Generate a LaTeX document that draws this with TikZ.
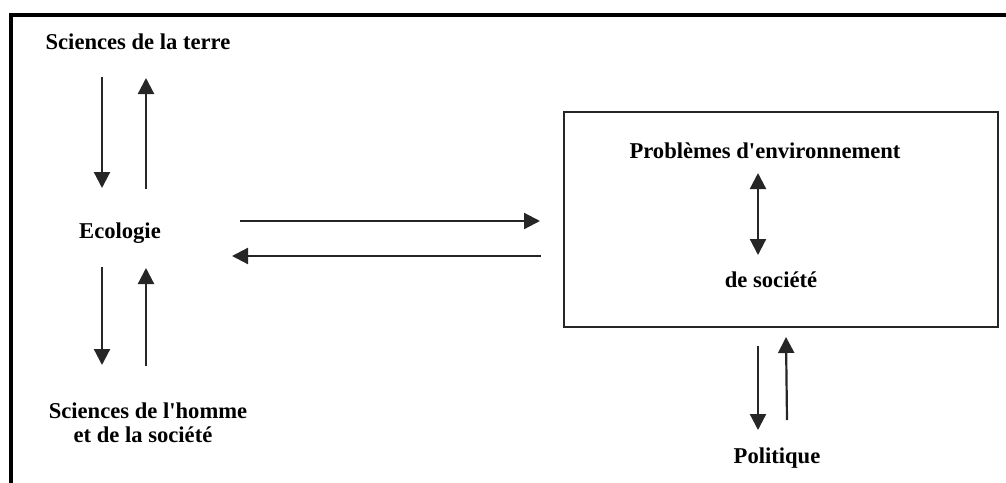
\documentclass[tikz,border=0pt]{standalone}
\usepackage{fontspec}
\setmainfont{Liberation Serif}
\usetikzlibrary{arrows.meta}
\begin{document}
\begin{tikzpicture}[x=1pt,y=-1pt,
  lbl/.style={font=\bfseries\fontsize{22.6}{26}\selectfont, inner sep=0pt, align=center},
  tip/.tip={Triangle[width=16pt,length=16pt]},
  conn/.style={line width=2.2pt, draw=black!85, -tip},
  dconn/.style={line width=2.2pt, draw=black!85, tip-tip},
  frame/.style={line width=4pt, draw=black}]
\useasboundingbox (0,0) rectangle (1006,482);
% outer frame
\draw[frame] (10.5,490) -- (10.5,15.3) -- (1012,15.3);
% box
\node[draw=black!85, line width=1.6pt, minimum width=434pt, minimum height=215pt, inner sep=0pt] (box) at (781,219.5) {};
% labels
\node[lbl] (terre) at (138,42) {Sciences de la terre};
\node[lbl] (eco) at (120,233) {Ecologie};
\node[lbl] (homme) at (148,423) {Sciences de l\textquotesingle homme\\[-2pt]\hspace*{-10pt}et de la société};
\node[lbl] (prob) at (765,151) {Problèmes d\textquotesingle environnement};
\node[lbl] (soc) at (771,280) {de société};
\node[lbl] (pol) at (777,458) {Politique};
% arrow ends
\coordinate (a1s) at (102,77);  \coordinate (a1e) at (102,188);
\coordinate (a2s) at (146,189); \coordinate (a2e) at (146,78);
\coordinate (a3s) at (102,267); \coordinate (a3e) at (102,365);
\coordinate (a4s) at (146,366); \coordinate (a4e) at (146,268);
\coordinate (h1s) at (240,221); \coordinate (h1e) at (540,221);
\coordinate (h2s) at (541,256); \coordinate (h2e) at (232,256);
\coordinate (ds) at (758,173);  \coordinate (de) at (758,255);
\coordinate (p1s) at (758,346); \coordinate (p1e) at (758,430);
\coordinate (p2s) at (787,420); \coordinate (p2e) at (786,337);
% connectors
\draw[conn] (a1s) -- (a1e);
\draw[conn] (a2s) -- (a2e);
\draw[conn] (a3s) -- (a3e);
\draw[conn] (a4s) -- (a4e);
\draw[conn] (h1s) -- (h1e);
\draw[conn] (h2s) -- (h2e);
\draw[dconn] (ds) -- (de);
\draw[conn] (p1s) -- (p1e);
\draw[conn] (p2s) -- (p2e);
\end{tikzpicture}
\end{document}
